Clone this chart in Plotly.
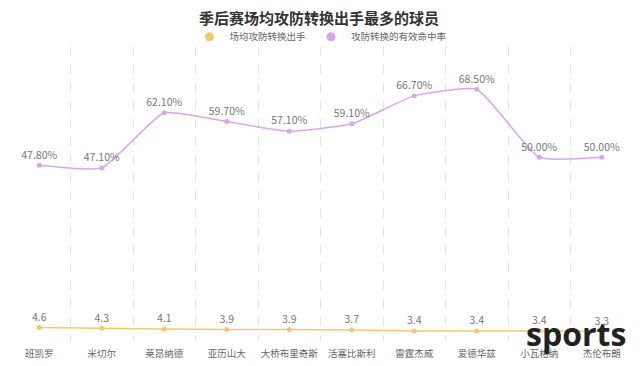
import plotly.graph_objects as go

players = ["班凯罗", "米切尔", "莱昂纳德", "亚历山大", "大桥布里奇斯", "活塞比斯利", "雷霆杰威", "爱德华兹", "小瓦格纳", "杰伦布朗"]
shots_per_game = [4.6, 4.3, 4.1, 3.9, 3.9, 3.7, 3.4, 3.4, 3.4, 3.3]
efficiency_pct = [47.8, 47.1, 62.1, 59.7, 57.1, 59.1, 66.7, 68.5, 50.0, 50.0]

yellow = "#F5C96B"
purple = "#D8A6F0"
font_family = "Noto Sans CJK SC, Microsoft YaHei, sans-serif"

fig = go.Figure()

fig.add_trace(go.Scatter(
    x=players, y=shots_per_game, name="场均攻防转换出手",
    mode="lines+markers+text",
    line=dict(color=yellow, width=1.5, shape="spline", smoothing=0.5),
    marker=dict(color=yellow, size=5),
    text=[f"{v:.1f}" for v in shots_per_game],
    textposition="top center",
    textfont=dict(color="#777777", size=10.5),
    showlegend=False, cliponaxis=False,
))

fig.add_trace(go.Scatter(
    x=players, y=efficiency_pct, name="攻防转换的有效命中率",
    mode="lines+markers+text", yaxis="y2",
    line=dict(color=purple, width=1.5, shape="spline", smoothing=0.45),
    marker=dict(color=purple, size=5),
    text=[f"{v:.2f}%" for v in efficiency_pct],
    textposition="top center",
    textfont=dict(color="#777777", size=10.5),
    showlegend=False, cliponaxis=False,
))

# legend entries (circle symbols only)
for name, color in [("场均攻防转换出手", yellow), ("攻防转换的有效命中率", purple)]:
    fig.add_trace(go.Scatter(
        x=[None], y=[None], name=name, mode="markers",
        marker=dict(color=color, size=9, symbol="circle"),
        showlegend=True,
    ))

fig.update_layout(
    width=640, height=366, autosize=False,
    margin=dict(l=0, r=15, t=39, b=33, autoexpand=False),
    paper_bgcolor="white", plot_bgcolor="white",
    font=dict(family=font_family, color="#666666", size=10),
    title=dict(
        text="<b>季后赛场均攻防转换出手最多的球员</b>",
        x=0.486, xanchor="center", y=1 - 10.5 / 366, yanchor="middle",
        font=dict(size=15, color="#333333", family=font_family),
        automargin=False,
    ),
    legend=dict(
        orientation="h", x=0.5, xanchor="center", y=1.035, yanchor="middle",
        font=dict(size=9.5, color="#666666"), itemwidth=30,
        bgcolor="rgba(0,0,0,0)",
    ),
    xaxis=dict(
        type="category", tickson="boundaries", tickangle=0, automargin=False,
        range=[-0.5, len(players) - 0.5],
        showgrid=True, gridcolor="#E3E3E3", griddash="dash", gridwidth=1,
        showline=False, zeroline=False, ticks="", ticklabelstandoff=5,
        tickfont=dict(size=9.5, color="#666666"),
    ),
    yaxis=dict(range=[0, 100], visible=False, showgrid=False, zeroline=False),
    yaxis2=dict(range=[0, 80], overlaying="y", visible=False, showgrid=False, zeroline=False),
    annotations=[dict(
        text="<b>sports</b>", x=1.0, xref="paper", xanchor="right",
        y=0, yref="paper", yanchor="middle", yshift=8, xshift=-5,
        showarrow=False, font=dict(size=32, color="#222222", family="Open Sans, sans-serif"),
    )],
)

fig.write_html("out.html")
